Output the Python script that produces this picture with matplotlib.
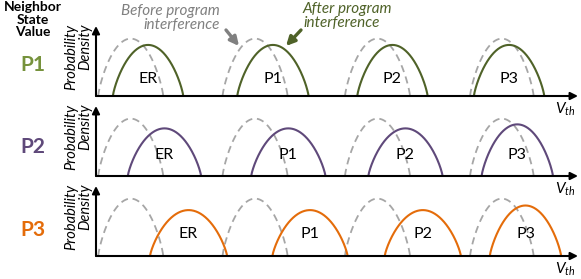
import numpy as np
import matplotlib
matplotlib.use("Agg")
import matplotlib.pyplot as plt

plt.rcParams['font.family'] = ['Lato', 'DejaVu Sans']
plt.rcParams['mathtext.fontset'] = 'custom'
plt.rcParams['mathtext.it'] = 'Lato:italic'
plt.rcParams['mathtext.rm'] = 'Lato'

# ---------------- data ----------------
states = ['ER', 'P1', 'P2', 'P3']
neighbor_states = ['P1', 'P2', 'P3']

# distributions before program interference (same in every panel)
before_center = [7.2, 33.0, 58.4, 84.2]
before_halfwidth = [6.75, 6.75, 6.75, 6.6]
before_height = [1.0, 1.0, 1.0, 1.0]

# distributions after program interference, one list per neighbor state
after_center_p1 = [10.8, 36.7, 61.5, 85.7]
after_halfwidth_p1 = [7.3, 7.4, 7.3, 7.3]
after_height_p1 = [0.89, 0.89, 0.89, 0.89]

after_center_p2 = [14.2, 39.9, 64.2, 87.4]
after_halfwidth_p2 = [7.6, 7.7, 7.7, 7.4]
after_height_p2 = [0.83, 0.83, 0.83, 0.90]

after_center_p3 = [19.2, 44.4, 67.8, 89.1]
after_halfwidth_p3 = [8.0, 7.8, 7.9, 7.4]
after_height_p3 = [0.80, 0.80, 0.80, 0.88]

after_centers = [after_center_p1, after_center_p2, after_center_p3]
after_halfwidths = [after_halfwidth_p1, after_halfwidth_p2, after_halfwidth_p3]
after_heights = [after_height_p1, after_height_p2, after_height_p3]

colors = ['#4f6228', '#5f497a', '#e46c0a']
label_colors = ['#76923c', '#5f497a', '#e46c0a']
gray = '#a6a6a6'

W, H = 581, 279
fig = plt.figure(figsize=(W / 100, H / 100), dpi=100)

ax_left_px, ax_right_px = 96, 578
baselines_px = [96, 176, 256]
ax_h_px = 70
label_y = [0.29, 0.37, 0.39]
state_label_y_px = [65, 147, 230]


def arch(c, hw, h, n=200):
    x = np.linspace(c - hw, c + hw, n)
    t = (x - c) / hw
    y = h * np.clip(1 - t ** 2, 0, None) ** 0.8
    return x, y


for i in range(3):
    b = baselines_px[i]
    ax = fig.add_axes([ax_left_px / W, 1 - b / H, (ax_right_px - ax_left_px) / W, ax_h_px / H])
    ax.set_xlim(0, 100)
    ax.set_ylim(0, 1.22)
    ax.axis('off')
    for j in range(4):
        x, y = arch(before_center[j], before_halfwidth[j], before_height[j])
        ax.plot(x, y, color=gray, lw=1.3, ls=(0, (4, 2.6)), zorder=2)
    for j in range(4):
        x, y = arch(after_centers[i][j], after_halfwidths[i][j], after_heights[i][j])
        ax.plot(x, y, color=colors[i], lw=1.5, zorder=3)
        ax.text(after_centers[i][j], label_y[i], states[j], ha='center', va='center',
                fontsize=11.5, color='black', zorder=4)
    # axes arrows
    ax.annotate('', xy=(1.0, 0), xytext=(0, 0), xycoords='axes fraction',
                arrowprops=dict(arrowstyle='-|>', color='black', lw=1.5,
                                mutation_scale=11, shrinkA=0, shrinkB=0), zorder=5)
    ax.annotate('', xy=(0, 1.0), xytext=(0, 0), xycoords='axes fraction',
                arrowprops=dict(arrowstyle='-|>', color='black', lw=1.5,
                                mutation_scale=11, shrinkA=0, shrinkB=0), zorder=5)
    # V_th label
    fig.text(575 / W, 1 - (b + 5) / H, r'$V_{th}$', ha='right', va='top', fontsize=11)
    # y label
    fig.text(78 / W, 1 - (b - ax_h_px - 2) / H, 'Probability\nDensity', rotation=90,
             ha='center', va='top', multialignment='right', fontsize=10.5,
             style='italic', linespacing=1.0)
    # neighbor state label
    fig.text(33 / W, 1 - state_label_y_px[i] / H, neighbor_states[i], ha='center',
             va='center', fontsize=15, fontweight='bold', color=label_colors[i])

fig.text(33 / W, 1 - 1 / H, 'Neighbor\nState\nValue', ha='center', va='top',
         fontsize=10, fontweight='bold', linespacing=1.05)

# annotations
fig.text(220 / W, 1 - 4 / H, 'Before program\ninterference', ha='right', va='top',
         multialignment='right', fontsize=11, style='italic', color='#808080', linespacing=1.0)
fig.text(303 / W, 1 - 2 / H, 'After program\ninterference', ha='left', va='top',
         multialignment='left', fontsize=11, style='italic', color=colors[0], linespacing=1.0)
fig.add_artist(matplotlib.patches.FancyArrowPatch(
    (226 / W, 1 - 30 / H), (239 / W, 1 - 46 / H), transform=fig.transFigure,
    arrowstyle='-|>', mutation_scale=13, lw=2.4, color='#808080',
    shrinkA=0, shrinkB=0))
fig.add_artist(matplotlib.patches.FancyArrowPatch(
    (301 / W, 1 - 30 / H), (286 / W, 1 - 46 / H), transform=fig.transFigure,
    arrowstyle='-|>', mutation_scale=13, lw=2.4, color=colors[0],
    shrinkA=0, shrinkB=0))

fig.savefig('out.png', dpi=100)
